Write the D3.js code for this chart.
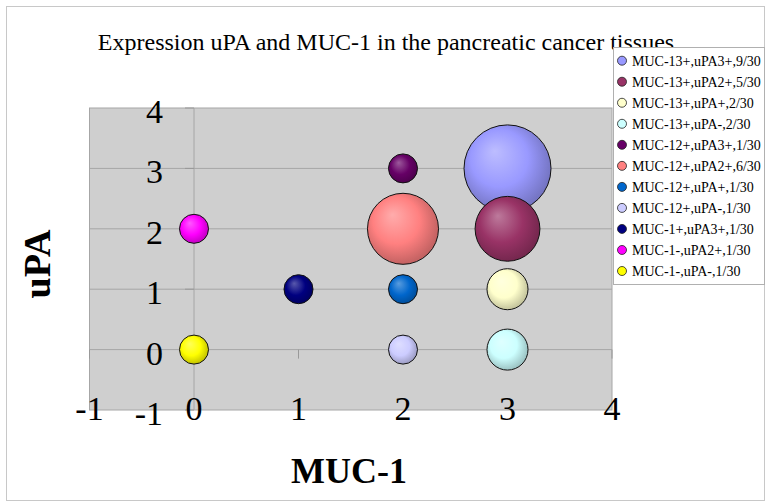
<!DOCTYPE html>
<html>
<head>
<meta charset="utf-8">
<script src="https://cdn.jsdelivr.net/npm/d3@7"></script>
<style>
  body { margin: 0; background: #fff; }
  text { font-family: "Liberation Serif", "Times New Roman", serif; }
</style>
</head>
<body>
<div id="chart"></div>
<script>
// series data
var labels = [
  "MUC-13+,uPA3+,9/30", "MUC-13+,uPA2+,5/30", "MUC-13+,uPA+,2/30", "MUC-13+,uPA-,2/30",
  "MUC-12+,uPA3+,1/30", "MUC-12+,uPA2+,6/30", "MUC-12+,uPA+,1/30", "MUC-12+,uPA-,1/30",
  "MUC-1+,uPA3+,1/30", "MUC-1-,uPA2+,1/30", "MUC-1-,uPA-,1/30"
];
var xValues = [3, 3, 3, 3, 2, 2, 2, 2, 1, 0, 0];
var yValues = [3, 2, 1, 0, 3, 2, 1, 0, 1, 2, 0];
var sizes   = [9, 5, 2, 2, 1, 6, 1, 1, 1, 1, 1];
var colors  = ["#9999ff", "#993366", "#ffffcc", "#ccffff", "#660066", "#ff8080",
               "#0066cc", "#ccccff", "#000080", "#ff00ff", "#ffff00"];
var ticks = [-1, 0, 1, 2, 3, 4];

var width = 771, height = 504;

var svg = d3.select("#chart")
    .append("svg")
    .attr("width", width)
    .attr("height", height);

var data = labels.map(function(l, i) {
  return {label: l, x: xValues[i], y: yValues[i], size: sizes[i], color: colors[i], i: i};
});

var x = d3.scaleLinear().domain([-1, 4]).range([89.5, 612]);
var y = d3.scaleLinear().domain([-1, 4]).range([410, 108]);
var r = d3.scaleSqrt().domain([0, 9]).range([0, 43.5]);

// outer chart border
svg.append("rect")
    .attr("x", 6.5).attr("y", 6.5)
    .attr("width", 758).attr("height", 494)
    .style("fill", "none")
    .style("stroke", "#c8c8c8");

// sphere-like gradients
var defs = svg.append("defs");
data.forEach(function(d) {
  var c = d3.color(d.color);
  var g = defs.append("radialGradient")
      .attr("id", "g" + d.i)
      .attr("cx", "45%").attr("cy", "45%").attr("r", "60%")
      .attr("fx", "35%").attr("fy", "30%");
  g.append("stop").attr("offset", "0%").attr("stop-color", d3.interpolateRgb(d.color, "#fff")(0.35));
  g.append("stop").attr("offset", "55%").attr("stop-color", d.color);
  g.append("stop").attr("offset", "100%").attr("stop-color", c.darker(0.9));
});

// plot area
svg.append("rect")
    .attr("x", x(-1)).attr("y", y(4))
    .attr("width", x(4) - x(-1)).attr("height", y(-1) - y(4))
    .style("fill", "#cfcfcf")
    .style("stroke", "#a6a6a6");

svg.append("g").selectAll("line")
    .data([0, 1, 2, 3])
    .enter().append("line")
    .attr("x1", x(-1)).attr("x2", x(4))
    .attr("y1", function(d) { return y(d); })
    .attr("y2", function(d) { return y(d); })
    .style("stroke", "#a6a6a6");

// y axis line at x = 0 and small tick marks
svg.append("line")
    .attr("x1", x(0)).attr("x2", x(0))
    .attr("y1", y(4)).attr("y2", y(-1))
    .style("stroke", "#a6a6a6");

svg.append("g").selectAll("line")
    .data(ticks)
    .enter().append("line")
    .attr("x1", function(d) { return x(d); })
    .attr("x2", function(d) { return x(d); })
    .attr("y1", y(0)).attr("y2", y(0) + 9)
    .style("stroke", "#999");

svg.append("g").selectAll("line")
    .data(ticks)
    .enter().append("line")
    .attr("x1", x(0) - 9).attr("x2", x(0))
    .attr("y1", function(d) { return y(d); })
    .attr("y2", function(d) { return y(d); })
    .style("stroke", "#999");

// tick labels
svg.append("g").selectAll("text")
    .data(ticks)
    .enter().append("text")
    .attr("x", function(d) { return x(d); })
    .attr("y", 420)
    .attr("text-anchor", "middle")
    .style("font-size", "34px")
    .text(function(d) { return d; });

svg.append("g").selectAll("text")
    .data(ticks)
    .enter().append("text")
    .attr("x", 163)
    .attr("y", function(d) { return y(d) + 15; })
    .attr("text-anchor", "end")
    .style("font-size", "34px")
    .text(function(d) { return d; });

// bubbles
svg.append("g").selectAll("circle")
    .data(data)
    .enter().append("circle")
    .attr("cx", function(d) { return x(d.x); })
    .attr("cy", function(d) { return y(d.y); })
    .attr("r", function(d) { return r(d.size); })
    .style("fill", function(d) { return "url(#g" + d.i + ")"; })
    .style("stroke", "#111")
    .style("stroke-width", 1);

// titles
svg.append("text")
    .attr("x", 386).attr("y", 50)
    .attr("text-anchor", "middle")
    .style("font-size", "24px")
    .text("Expression uPA and MUC-1 in the pancreatic cancer tissues");

svg.append("text")
    .attr("x", 349).attr("y", 483)
    .attr("text-anchor", "middle")
    .style("font-size", "36px")
    .style("font-weight", "bold")
    .text("MUC-1");

svg.append("text")
    .attr("transform", "translate(50,264) rotate(-90)")
    .attr("text-anchor", "middle")
    .style("font-size", "38px")
    .style("font-weight", "bold")
    .text("uPA");

// legend
var legend = svg.append("g");
legend.append("rect")
    .attr("x", 613.5).attr("y", 47.5)
    .attr("width", 151).attr("height", 237)
    .style("fill", "#fff")
    .style("stroke", "#b0b0b0");

var item = legend.selectAll("g.item")
    .data(data)
    .enter().append("g")
    .attr("class", "item")
    .attr("transform", function(d, i) { return "translate(622," + (60.7 + i * 21.03) + ")"; });

item.append("circle")
    .attr("r", 4.5)
    .style("fill", function(d) { return d.color; })
    .style("stroke", "#222")
    .style("stroke-width", 0.8);

item.append("text")
    .attr("x", 10).attr("y", 5)
    .style("font-size", "14px")
    .text(function(d) { return d.label; });
</script>
</body>
</html>
